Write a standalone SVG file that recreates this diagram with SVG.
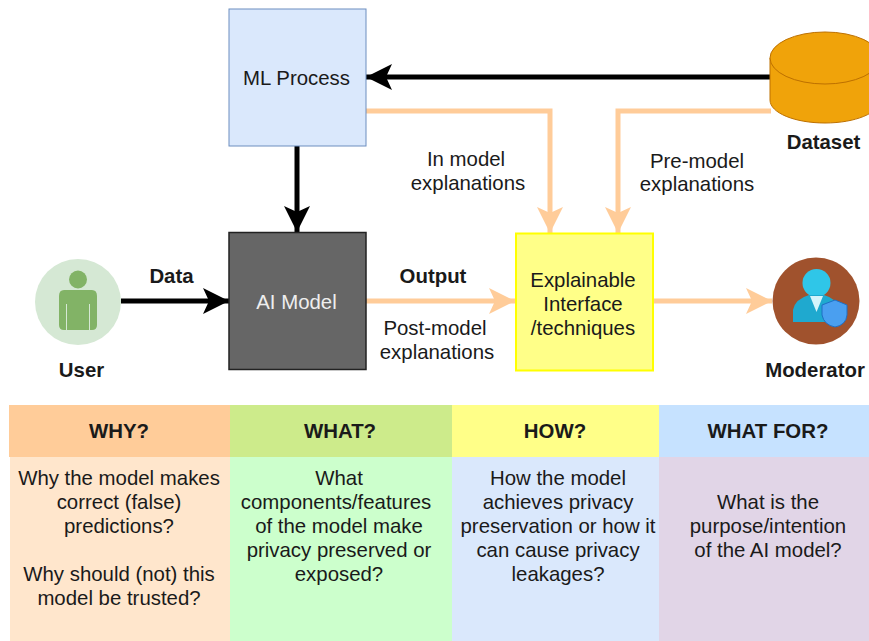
<svg xmlns="http://www.w3.org/2000/svg" width="869" height="641" viewBox="0 0 869 641">
<style>
text{font-family:"Liberation Sans",Arial,sans-serif;font-size:20.400px;fill:#1a1a1a;text-anchor:middle}
.b{font-weight:bold;font-size:20.400px}
.k{fill:none;stroke:#000;stroke-width:5}
.o{fill:none;stroke:#ffcc99;stroke-width:5}
</style>
<defs>
<marker id="ak" markerUnits="userSpaceOnUse" markerWidth="28" markerHeight="30" refX="26" refY="15" orient="auto"><path d="M0 2L26 15L0 28L6 15Z" fill="#000"/></marker>
<marker id="ao" markerUnits="userSpaceOnUse" markerWidth="28" markerHeight="30" refX="26" refY="15" orient="auto"><path d="M0 2L26 15L0 28L6 15Z" fill="#ffcc99"/></marker>
</defs>
<rect width="869" height="641" fill="#fff"/>
<g id="connectors">
<path class="k" d="M771 77H366" marker-end="url(#ak)"/>
<path class="k" d="M297 146V232" marker-end="url(#ak)"/>
<path class="k" d="M121 301H229" marker-end="url(#ak)"/>
<path class="o" d="M366 111H550V233" marker-end="url(#ao)"/>
<path class="o" d="M771 111H618V233" marker-end="url(#ao)"/>
<path class="o" d="M366 301H515" marker-end="url(#ao)"/>
<path class="o" d="M653 301H772" marker-end="url(#ao)"/>
</g>
<g id="ml-process"><rect x="229" y="9" width="137" height="137" fill="#dae8fc" stroke="#6c8ebf" stroke-width="1"/><text x="296.500" y="85">ML Process</text></g>
<g id="ai-model"><rect x="229" y="232.500" width="137" height="137" fill="#666" stroke="#222" stroke-width="1.500"/><text x="296.500" y="309" style="fill:#eee">AI Model</text></g>
<g id="interface"><rect x="516" y="233.500" width="137" height="137" fill="#ffff88" stroke="#ffff00" stroke-width="2"/><text x="583" y="286.500">Explainable</text><text x="583" y="310.500">Interface</text><text x="583" y="334.500">/techniques</text></g>
<g id="dataset"><path d="M770 58V100C770 113 795 123 825 123S880 113 880 100V58Z" fill="#f0a30a" stroke="#bd7000" stroke-width="1"/><ellipse cx="825" cy="58" rx="55" ry="26" fill="#f0a30a" stroke="#bd7000" stroke-width="1"/><text x="823.500" y="149" class="b">Dataset</text></g>
<g id="user"><circle cx="78" cy="302" r="43" fill="#d5e8d4"/><circle cx="78" cy="279.500" r="9" fill="#82b366"/><path d="M64 290H92Q97 290 97 296V325Q97 330 92 330H90V304H89V330H67V304H66V330H64Q59 330 59 325V296Q59 290 64 290Z" fill="#82b366"/><text x="81.500" y="376.500" class="b">User</text></g>
<g id="moderator"><circle cx="816" cy="301" r="43.500" fill="#a0522d"/><circle cx="816.500" cy="283" r="14" fill="#2fc6e8"/><path d="M793 322V310Q795 299 809 295H824Q838 299 840 310V322Z" fill="#1fa9cf"/><path d="M810 296H823L816.500 312Z" fill="#d4f4fb"/><path d="M822 305L835 300L847 305V315Q846 325 835 327Q824 325 822 315Z" fill="#4a9ff0" stroke="#1f6fc4" stroke-width="1"/><text x="815" y="376.500" class="b">Moderator</text></g>
<g id="labels">
<text x="171.500" y="282.500" class="b">Data</text>
<text x="433" y="282.500" class="b">Output</text>
<text x="466" y="165.500">In model</text><text x="468" y="189.500">explanations</text>
<text x="697" y="167.500">Pre-model</text><text x="697" y="190.500">explanations</text>
<text x="435" y="334.500">Post-model</text><text x="437" y="358.500">explanations</text>
</g>
<g id="why"><rect x="9" y="405" width="221" height="52" fill="#ffcc99"/><rect x="10" y="457" width="220" height="184" fill="#ffe6cc"/><text x="119" y="438" class="b">WHY?</text><text x="119" y="484.500">Why the model makes</text><text x="119" y="508.500">correct (false)</text><text x="119" y="532.500">predictions?</text><text x="119" y="580.500">Why should (not) this</text><text x="119" y="604.500">model be trusted?</text></g>
<g id="what"><rect x="230" y="405" width="222" height="52" fill="#cdeb8b"/><rect x="230" y="457" width="222" height="184" fill="#ccffcc"/><text x="340" y="438" class="b">WHAT?</text><text x="339" y="484.500">What</text><text x="336" y="508.500">components/features</text><text x="339" y="532.500">of the model make</text><text x="339" y="556.500">privacy preserved or</text><text x="339" y="580.500">exposed?</text></g>
<g id="how"><rect x="452" y="405" width="207" height="52" fill="#ffff88"/><rect x="452" y="457" width="207" height="184" fill="#dae8fc"/><text x="555" y="438" class="b">HOW?</text><text x="558" y="484.500">How the model</text><text x="558" y="508.500">achieves privacy</text><text x="558" y="532.500">preservation or how it</text><text x="558" y="556.500">can cause privacy</text><text x="558" y="580.500">leakages?</text></g>
<g id="what-for"><rect x="659" y="405" width="210" height="52" fill="#c6e2ff"/><rect x="659" y="457" width="210" height="184" fill="#e1d5e7"/><text x="768" y="438" class="b">WHAT FOR?</text><text x="768" y="508.500">What is the</text><text x="768" y="532.500">purpose/intention</text><text x="768" y="556.500">of the AI model?</text></g>
</svg>
